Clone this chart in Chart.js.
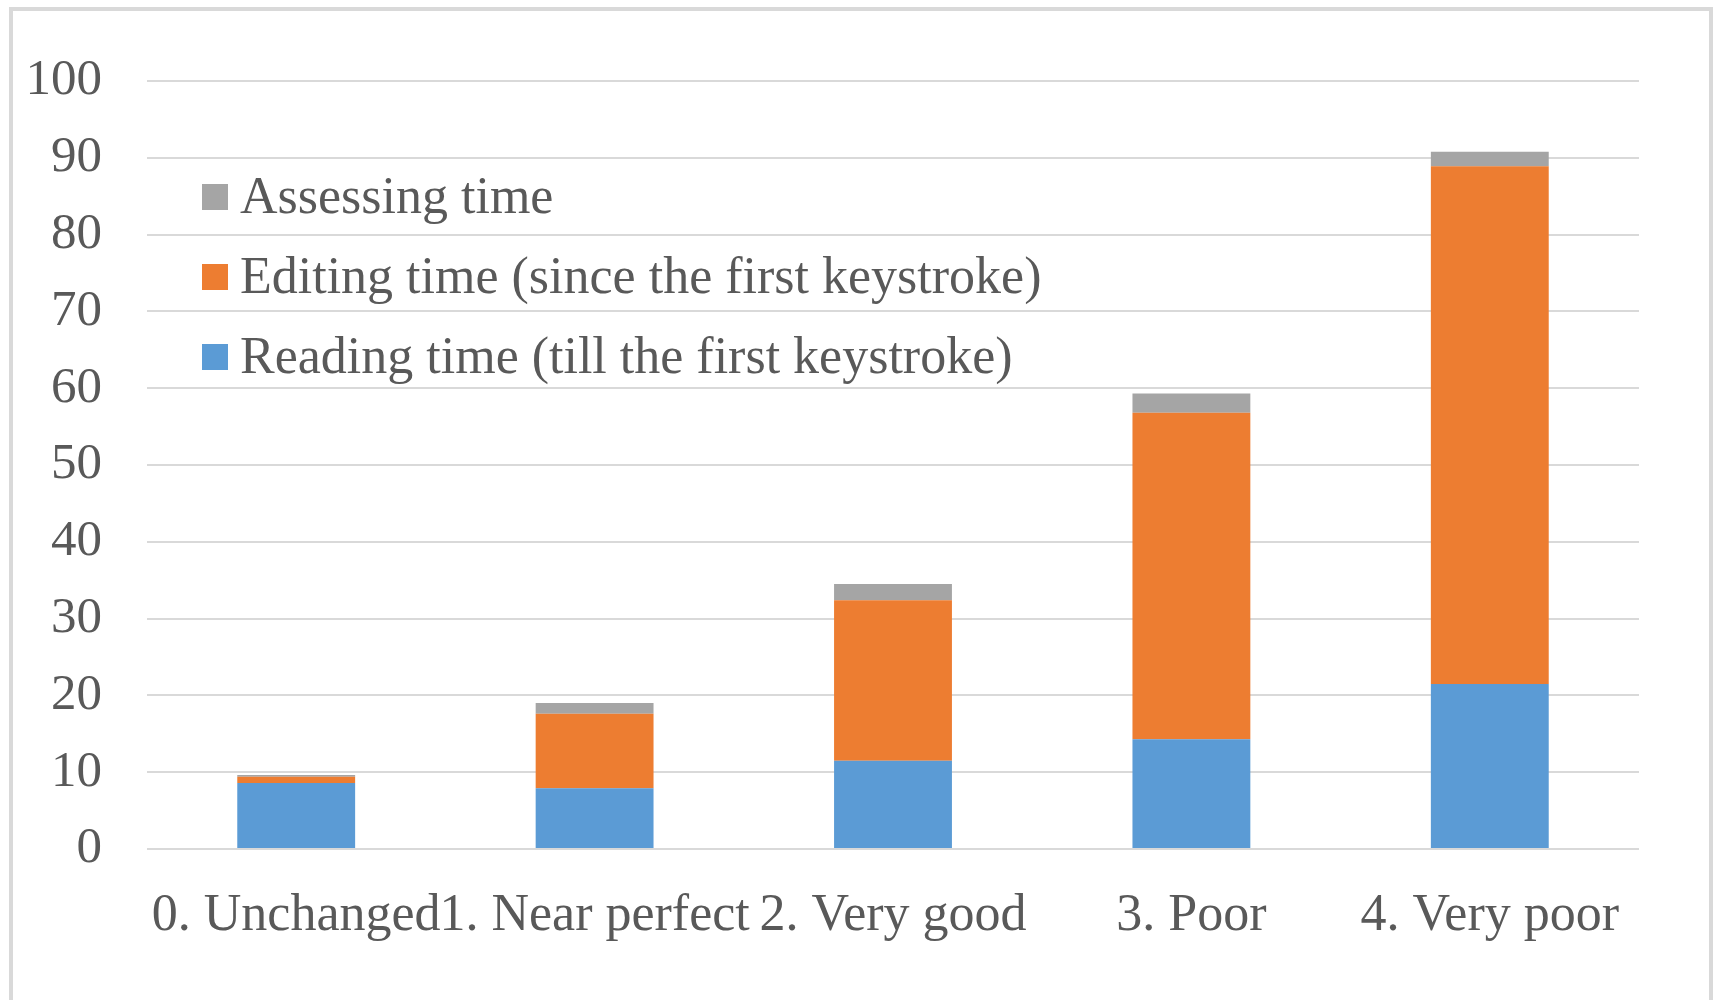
<!DOCTYPE html>
<html>
<head>
<meta charset="utf-8">
<title>Reading, editing and assessing time by quality</title>
<script src="https://cdn.jsdelivr.net/npm/chart.js@4/dist/chart.umd.min.js"></script>
<style>
  html, body { margin: 0; padding: 0; background: #fff; }
  #wrap { position: relative; width: 1723px; height: 1000px; overflow: hidden; }
  #frame {
    position: absolute; left: 9px; top: 7px; width: 1704px; height: 1000px;
    border: 4px solid #d9d9d9; box-sizing: border-box;
  }
  #timeChart { position: absolute; left: 0; top: 0; }
</style>
</head>
<body>
<div id="wrap">
  <div id="frame"></div>
  <canvas id="timeChart" width="1723" height="1000"></canvas>
</div>
<script>
// categories and series (seconds, stacked)
const categories = ["0. Unchanged", "1. Near perfect", "2. Very good", "3. Poor", "4. Very poor"];
const readingTime = [8.6, 7.9, 11.5, 14.3, 21.5];
const editingTime = [0.8, 9.7, 20.9, 42.5, 67.4];
const assessingTime = [0.25, 1.4, 2.1, 2.5, 1.9];
const yTicks = [0, 10, 20, 30, 40, 50, 60, 70, 80, 90, 100];

const FONT = "'Liberation Serif', 'Times New Roman', serif";
const TEXT = "#595959";

// legend drawn inside the plot area, top-left, last series first
const insideLegend = {
    id: "insideLegend",
    afterDraw(chart) {
        const ctx = chart.ctx;
        const area = chart.chartArea;
        const items = chart.data.datasets.slice().reverse();
        ctx.save();
        ctx.font = "52px " + FONT;
        ctx.textBaseline = "alphabetic";
        ctx.textAlign = "left";
        items.forEach((ds, i) => {
            const cy = area.top + 116 + i * 80;
            ctx.fillStyle = ds.backgroundColor;
            ctx.fillRect(area.left + 55, cy - 13, 26, 26);
            ctx.fillStyle = TEXT;
            ctx.fillText(ds.label, area.left + 93, cy + 16);
        });
        ctx.restore();
    }
};

function renderChart() {
    const ctx = document.getElementById("timeChart").getContext("2d");
    return new Chart(ctx, {
        type: "bar",
        data: {
            labels: categories,
            datasets: [
                { label: "Reading time (till the first keystroke)", data: readingTime, backgroundColor: "#5B9BD5" },
                { label: "Editing time (since the first keystroke)", data: editingTime, backgroundColor: "#ED7D31" },
                { label: "Assessing time", data: assessingTime, backgroundColor: "#A5A5A5" }
            ]
        },
        options: {
            responsive: false,
            animation: false,
            layout: { padding: { left: 0, top: 81, right: 84, bottom: 0 } },
            datasets: { bar: { categoryPercentage: 1, barPercentage: 0.395, borderWidth: 0 } },
            plugins: {
                legend: { display: false },
                tooltip: { enabled: false }
            },
            scales: {
                x: {
                    stacked: true,
                    grid: { display: false },
                    border: { display: false },
                    ticks: {
                        autoSkip: false, maxRotation: 0, minRotation: 0,
                        padding: 28, color: TEXT,
                        font: { family: FONT, size: 52 }
                    },
                    afterFit(scale) { scale.height = 151; }
                },
                y: {
                    stacked: true,
                    min: 0, max: 100,
                    afterBuildTicks(scale) { scale.ticks = yTicks.map(v => ({ value: v })); },
                    grid: { color: "#d9d9d9", lineWidth: 2, drawTicks: false },
                    border: { display: false },
                    ticks: {
                        padding: 45, color: TEXT,
                        font: { family: FONT, size: 51 }
                    },
                    afterFit(scale) { scale.width = 147; }
                }
            }
        },
        plugins: [insideLegend]
    });
}

renderChart();
</script>
</body>
</html>
